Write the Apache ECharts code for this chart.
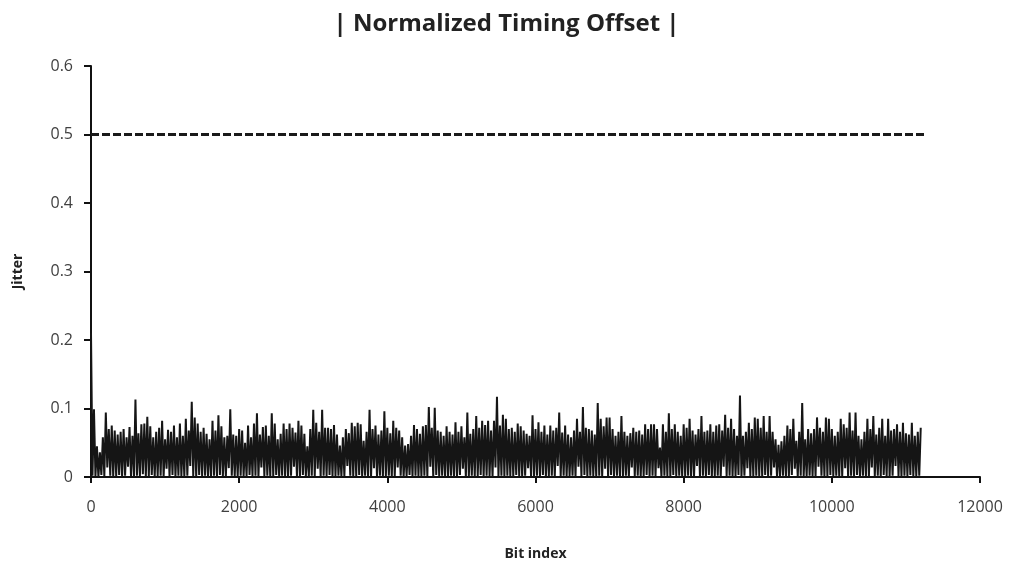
<!DOCTYPE html>
<html>
<head>
<meta charset="utf-8">
<script src="https://cdn.jsdelivr.net/npm/echarts@6/dist/echarts.min.js"></script>
<style>
html,body{margin:0;padding:0;background:#fff;}
#chart{width:1013px;height:566px;}
</style>
</head>
<body>
<div id="chart"></div>
<script>
// Chart text
var titleText = '| Normalized Timing Offset |';
var xName = 'Bit index';
var yName = 'Jitter';

// Sampling step of the jitter trace (bit index between successive local peaks)
var bitStep = 40;

// Local peak values, one every bitStep bits starting at bit 0
var peaks = [
  0.21, 0.099, 0.045, 0.036, 0.058, 0.094, 0.070, 0.075, 0.068, 0.062,
  0.066, 0.070, 0.058, 0.073, 0.060, 0.113, 0.064, 0.077, 0.078, 0.088,
  0.074, 0.058, 0.066, 0.072, 0.082, 0.055, 0.069, 0.066, 0.075, 0.058,
  0.078, 0.060, 0.085, 0.068, 0.110, 0.087, 0.078, 0.066, 0.072, 0.063,
  0.055, 0.082, 0.068, 0.090, 0.074, 0.058, 0.060, 0.099, 0.062, 0.060,
  0.070, 0.068, 0.050, 0.075, 0.058, 0.078, 0.093, 0.062, 0.073, 0.075,
  0.060, 0.093, 0.078, 0.055, 0.063, 0.078, 0.070, 0.078, 0.072, 0.065,
  0.082, 0.075, 0.063, 0.045, 0.070, 0.098, 0.079, 0.066, 0.098, 0.072,
  0.072, 0.070, 0.076, 0.062, 0.046, 0.058, 0.070, 0.064, 0.079, 0.074,
  0.079, 0.077, 0.053, 0.066, 0.098, 0.070, 0.075, 0.062, 0.068, 0.096,
  0.072, 0.064, 0.082, 0.072, 0.068, 0.058, 0.046, 0.048, 0.060, 0.076,
  0.070, 0.063, 0.074, 0.076, 0.102, 0.072, 0.101, 0.068, 0.066, 0.060,
  0.074, 0.066, 0.062, 0.080, 0.066, 0.074, 0.058, 0.094, 0.063, 0.070,
  0.089, 0.072, 0.082, 0.076, 0.082, 0.068, 0.082, 0.117, 0.075, 0.091,
  0.085, 0.070, 0.072, 0.066, 0.078, 0.074, 0.068, 0.063, 0.060, 0.090,
  0.070, 0.080, 0.066, 0.075, 0.062, 0.075, 0.068, 0.072, 0.094, 0.065,
  0.075, 0.062, 0.058, 0.068, 0.085, 0.066, 0.102, 0.072, 0.070, 0.068,
  0.062, 0.108, 0.085, 0.074, 0.087, 0.087, 0.070, 0.060, 0.066, 0.089,
  0.066, 0.060, 0.064, 0.072, 0.066, 0.068, 0.062, 0.077, 0.070, 0.077,
  0.077, 0.070, 0.043, 0.077, 0.066, 0.093, 0.070, 0.077, 0.066, 0.060,
  0.077, 0.072, 0.085, 0.068, 0.062, 0.070, 0.089, 0.066, 0.068, 0.077,
  0.066, 0.075, 0.077, 0.068, 0.091, 0.072, 0.085, 0.070, 0.060, 0.119,
  0.060, 0.066, 0.079, 0.070, 0.087, 0.085, 0.072, 0.089, 0.066, 0.089,
  0.066, 0.055, 0.047, 0.052, 0.060, 0.075, 0.070, 0.085, 0.053, 0.066,
  0.108, 0.055, 0.070, 0.064, 0.070, 0.087, 0.072, 0.066, 0.087, 0.085,
  0.070, 0.060, 0.066, 0.085, 0.077, 0.072, 0.094, 0.068, 0.094, 0.060,
  0.055, 0.066, 0.085, 0.070, 0.089, 0.062, 0.072, 0.085, 0.060, 0.085,
  0.068, 0.070, 0.077, 0.066, 0.079, 0.064, 0.062, 0.079, 0.060, 0.066, 0.072
];

// Local minimum values, one between each pair of successive peaks
var troughs = [
  0.002, 0.001, 0.000, 0.003, 0.001, 0.014, 0.002, 0.000, 0.001, 0.003, 0.000, 0.002, 0.015, 0.001, 0.000, 0.002, 0.001, 0.004, 0.000, 0.001,
  0.003, 0.000, 0.001, 0.002, 0.000, 0.012, 0.001, 0.003, 0.000, 0.002, 0.001, 0.000, 0.002, 0.016, 0.001, 0.000, 0.003, 0.001, 0.002, 0.000,
  0.001, 0.002, 0.000, 0.003, 0.001, 0.000, 0.013, 0.002, 0.001, 0.000, 0.002, 0.001, 0.000, 0.003, 0.001, 0.002, 0.000, 0.014, 0.001, 0.002,
  0.000, 0.001, 0.003, 0.000, 0.002, 0.001, 0.000, 0.002, 0.015, 0.001, 0.000, 0.003, 0.001, 0.000, 0.002, 0.001, 0.012, 0.000, 0.002, 0.001,
  0.003, 0.000, 0.001, 0.002, 0.000, 0.001, 0.016, 0.002, 0.000, 0.001, 0.003, 0.000, 0.002, 0.001, 0.000, 0.013, 0.001, 0.002, 0.000, 0.001,
  0.002, 0.000, 0.001, 0.014, 0.002, 0.000, 0.001, 0.003, 0.000, 0.002, 0.001, 0.000, 0.002, 0.001, 0.015, 0.000, 0.003, 0.001, 0.002, 0.000,
  0.001, 0.002, 0.000, 0.001, 0.003, 0.012, 0.000, 0.001, 0.002, 0.000, 0.001, 0.003, 0.000, 0.002, 0.001, 0.000, 0.014, 0.001, 0.002, 0.000,
  0.002, 0.001, 0.000, 0.003, 0.001, 0.000, 0.002, 0.013, 0.001, 0.000, 0.002, 0.001, 0.003, 0.000, 0.001, 0.002, 0.000, 0.016, 0.001, 0.002,
  0.000, 0.001, 0.002, 0.000, 0.015, 0.001, 0.003, 0.000, 0.002, 0.001, 0.000, 0.002, 0.001, 0.012, 0.000, 0.003, 0.001, 0.002, 0.000, 0.001,
  0.002, 0.000, 0.014, 0.001, 0.002, 0.000, 0.001, 0.003, 0.000, 0.002, 0.001, 0.013, 0.000, 0.002, 0.001, 0.000, 0.003, 0.001, 0.002, 0.000,
  0.001, 0.002, 0.000, 0.001, 0.016, 0.000, 0.002, 0.001, 0.003, 0.000, 0.001, 0.002, 0.000, 0.015, 0.001, 0.002, 0.000, 0.001, 0.003, 0.000,
  0.002, 0.013, 0.001, 0.000, 0.002, 0.001, 0.000, 0.003, 0.001, 0.002, 0.014, 0.000, 0.001, 0.002, 0.000, 0.001, 0.003, 0.012, 0.000, 0.002,
  0.001, 0.000, 0.002, 0.001, 0.000, 0.015, 0.002, 0.001, 0.000, 0.003, 0.001, 0.002, 0.000, 0.001, 0.013, 0.000, 0.002, 0.001, 0.003, 0.000,
  0.002, 0.001, 0.000, 0.014, 0.001, 0.002, 0.000, 0.003, 0.001, 0.000, 0.002, 0.016, 0.001, 0.000, 0.002, 0.001, 0.003, 0.000, 0.001, 0.002
];

// Threshold line
var thresholdValue = 0.5;
var thresholdRange = [0, 11250];

// Axes
var xMin = 0, xMax = 12000, xInterval = 2000;
var yMin = 0, yMax = 0.6, yInterval = 0.1;

var trace = [];
for (var k = 0; k < peaks.length; k++) {
  trace.push([k * bitStep, peaks[k]]);
  if (k < troughs.length) trace.push([k * bitStep + bitStep / 2, troughs[k]]);
}
var threshold = [[thresholdRange[0], thresholdValue], [thresholdRange[1], thresholdValue]];

var chart = echarts.init(document.getElementById('chart'), null, {renderer: 'canvas'});
var font = '"Open Sans", "DejaVu Sans", sans-serif';
chart.setOption({
  animation: false,
  backgroundColor: '#ffffff',
  title: {
    text: titleText,
    left: 'center',
    top: 7,
    textStyle: {fontFamily: font, fontSize: 24, fontWeight: 'bold', color: '#222'}
  },
  grid: {left: 91, right: 33, top: 66, bottom: 88, containLabel: false},
  xAxis: {
    type: 'value', min: xMin, max: xMax, interval: xInterval,
    name: xName, nameLocation: 'middle', nameGap: 70,
    nameTextStyle: {fontFamily: font, fontSize: 14, fontWeight: 'bold', color: '#222'},
    axisLine: {onZero: false, lineStyle: {color: '#111', width: 2}},
    axisTick: {show: true, length: 6, lineStyle: {color: '#111', width: 2}},
    axisLabel: {fontFamily: font, fontSize: 16, color: '#404040', margin: 22,
      formatter: function (v) { return String(v); }},
    splitLine: {show: false}
  },
  yAxis: {
    type: 'value', min: yMin, max: yMax, interval: yInterval,
    name: yName, nameLocation: 'middle', nameGap: 66, nameRotate: 90,
    nameTextStyle: {fontFamily: font, fontSize: 14, fontWeight: 'bold', color: '#222'},
    axisLine: {show: true, lineStyle: {color: '#111', width: 2}},
    axisTick: {show: true, length: 7, lineStyle: {color: '#111', width: 2}},
    axisLabel: {fontFamily: font, fontSize: 16, color: '#404040', margin: 18},
    splitLine: {show: false}
  },
  series: [
    {
      type: 'line', data: trace, showSymbol: false, sampling: 'none',
      lineStyle: {color: '#151515', width: 2}, z: 2
    },
    {
      type: 'line', data: threshold, showSymbol: false,
      lineStyle: {color: '#1a1a1a', width: 3, type: [8, 3]}, z: 3
    }
  ]
});
</script>
</body>
</html>
